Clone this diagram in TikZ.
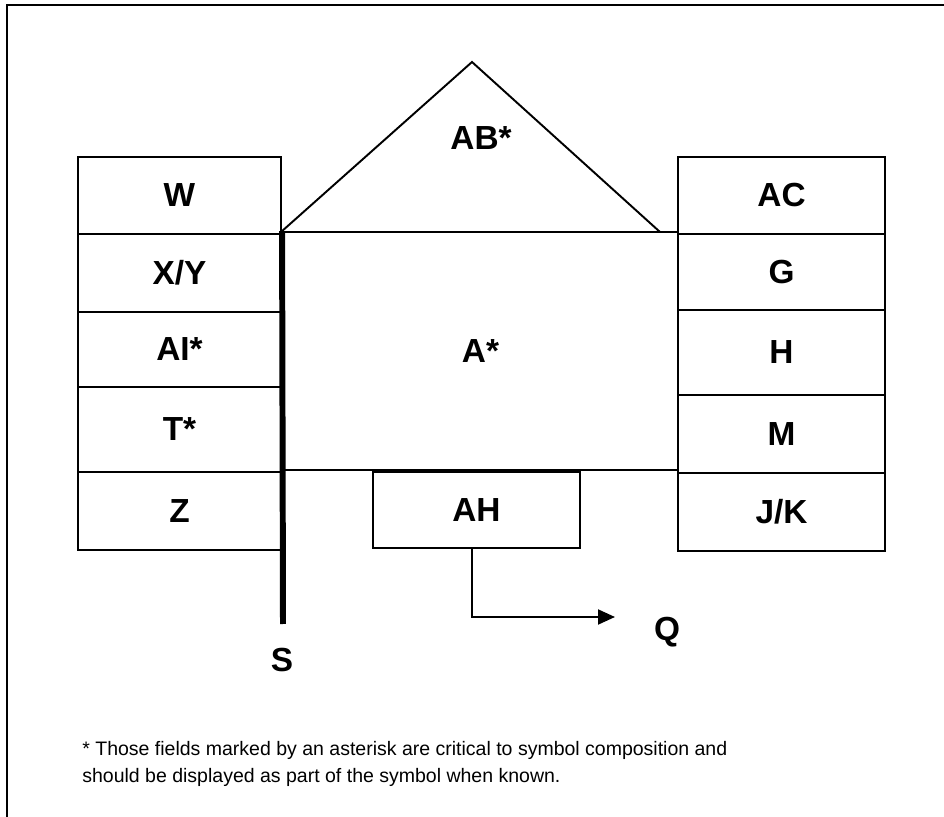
\documentclass[tikz,border=0pt]{standalone}
\usepackage{fontspec}
\setmainfont{Liberation Sans}
\usetikzlibrary{arrows.meta}

\begin{document}
\begin{tikzpicture}[x=0.02cm,y=-0.02cm,
  field/.style={draw,line width=1.1pt,inner sep=0pt,font=\fontsize{19}{21}\selectfont\bfseries},
  leftfield/.style={field,minimum width=4.06cm},
  rightfield/.style={field,minimum width=4.14cm},
  tag/.style={inner sep=0pt,font=\fontsize{19}{21}\selectfont\bfseries}]
  \useasboundingbox (0,0) rectangle (944,817);
  \draw[line width=1.3pt] (7,817) -- (7,5) -- (944,5);

  % left column
  \node[leftfield,minimum height=1.54cm] (W)  at (179.5,195.5) {W};
  \node[leftfield,minimum height=1.56cm] (XY) at (179.5,273)   {X/Y};
  \node[leftfield,minimum height=1.50cm] (AI) at (179.5,349.5) {AI*};
  \node[leftfield,minimum height=1.70cm] (T)  at (179.5,429.5) {T*};
  \node[leftfield,minimum height=1.56cm] (Z)  at (179.5,511)   {Z};

  % right column
  \node[rightfield,minimum height=1.54cm] (AC) at (781.5,195.5) {AC};
  \node[rightfield,minimum height=1.52cm] (G)  at (781.5,272)   {G};
  \node[rightfield,minimum height=1.70cm] (H)  at (781.5,352.5) {H};
  \node[rightfield,minimum height=1.56cm] (M)  at (781.5,434)   {M};
  \node[rightfield,minimum height=1.56cm] (JK) at (781.5,512)   {J/K};

  % centre
  \node[field,minimum width=7.9cm,minimum height=4.76cm] (A) at (480.5,351) {A*};
  \draw[line width=1.1pt] (A.north west) -- (472,62) -- (660,232);
  \node[tag] (AB) at (481,138) {AB*};
  \node[field,minimum width=4.14cm,minimum height=1.52cm] (AH) at (476.5,510) {AH};

  % S line
  \node[tag] (S) at (282,660) {S};
  \coordinate (sEnd) at (283,624);
  \draw[line width=3.4pt] (A.north west) -- (sEnd);

  % Q arrow
  \node[tag] (Q) at (667,632) {Q};
  \coordinate (bend) at (472,617);
  \coordinate (qTip) at (615,617);
  \draw[line width=1.1pt,-{Triangle[length=0.34cm,width=0.3cm]}] (AH.south -| bend) -- (bend) -- (qTip);

  \node[anchor=north west,inner sep=0pt,align=left,font=\fontsize{11.1}{15.5}\selectfont] (note) at (82,741)
    {* Those fields marked by an asterisk are critical to symbol composition and\\
     should be displayed as part of the symbol when known.};
\end{tikzpicture}
\end{document}
